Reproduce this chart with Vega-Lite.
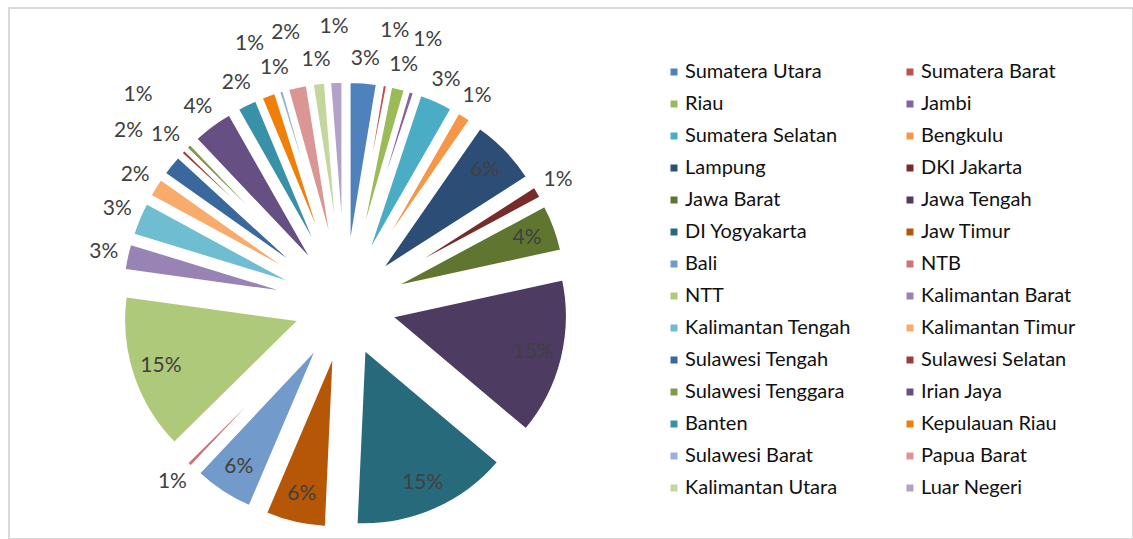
{
  "$schema": "https://vega.github.io/schema/vega-lite/v6.json",
  "width": 1124,
  "height": 531,
  "autosize": {"type": "none"},
  "padding": {"left": 9, "top": 8, "right": 0, "bottom": 0},
  "background": "white",
  "config": {
    "view": {"stroke": "#d9d9d9", "strokeWidth": 2},
    "font": "Lato"
  },
  "data": {
    "values": [
      {"idx": 1, "name": "Sumatera Utara", "v": 2.61},
      {"idx": 2, "name": "Sumatera Barat", "v": 0.52},
      {"idx": 3, "name": "Riau", "v": 1.39},
      {"idx": 4, "name": "Jambi", "v": 0.6},
      {"idx": 5, "name": "Sumatera Selatan", "v": 3.19},
      {"idx": 6, "name": "Bengkulu", "v": 1.36},
      {"idx": 7, "name": "Lampung", "v": 6.3},
      {"idx": 8, "name": "DKI Jakarta", "v": 1.22},
      {"idx": 9, "name": "Jawa Barat", "v": 4.42},
      {"idx": 10, "name": "Jawa Tengah", "v": 14.6},
      {"idx": 11, "name": "DI Yogyakarta", "v": 14.6},
      {"idx": 12, "name": "Jaw Timur", "v": 5.7},
      {"idx": 13, "name": "Bali", "v": 5.61},
      {"idx": 14, "name": "NTB", "v": 0.6},
      {"idx": 15, "name": "NTT", "v": 14.6},
      {"idx": 16, "name": "Kalimantan Barat", "v": 2.55},
      {"idx": 17, "name": "Kalimantan Tengah", "v": 3.19},
      {"idx": 18, "name": "Kalimantan Timur", "v": 1.86},
      {"idx": 19, "name": "Sulawesi Tengah", "v": 2.03},
      {"idx": 20, "name": "Sulawesi Selatan", "v": 0.52},
      {"idx": 21, "name": "Sulawesi Tenggara", "v": 0.6},
      {"idx": 22, "name": "Irian Jaya", "v": 3.86},
      {"idx": 23, "name": "Banten", "v": 1.94},
      {"idx": 24, "name": "Kepulauan Riau", "v": 1.42},
      {"idx": 25, "name": "Sulawesi Barat", "v": 0.52},
      {"idx": 26, "name": "Papua Barat", "v": 1.86},
      {"idx": 27, "name": "Kalimantan Utara", "v": 1.25},
      {"idx": 28, "name": "Luar Negeri", "v": 1.25}
    ]
  },
  "transform": [
    {"joinaggregate": [{"op": "sum", "field": "v", "as": "total"}]},
    {"window": [{"op": "sum", "field": "v", "as": "cum"}], "sort": [{"field": "idx"}], "frame": [null, 0]},
    {"calculate": "datum.v / datum.total", "as": "share"},
    {"calculate": "2 * PI * (datum.cum - datum.v / 2) / datum.total", "as": "mid"},
    {"calculate": "47 * sin(datum.mid)", "as": "ex"},
    {"calculate": "-47 * cos(datum.mid)", "as": "ey"},
    {"calculate": "datum.share >= 0.04 ? 147 : (datum.name == 'Sulawesi Tenggara' ? 248 : (indexof(['Sumatera Barat', 'Jambi', 'Sulawesi Tengah', 'Kepulauan Riau', 'Papua Barat', 'Luar Negeri'], datum.name) >= 0 ? 231 : 200))", "as": "lr"},
    {"calculate": "datum.ex + datum.lr * sin(datum.mid)", "as": "lx"},
    {"calculate": "datum.ey - datum.lr * cos(datum.mid)", "as": "ly"},
    {"calculate": "format(datum.share, '.0%')", "as": "lbl"}
  ],
  "layer": [
    {
      "mark": {"type": "arc", "outerRadius": 177, "stroke": "white", "strokeWidth": 3.5},
      "encoding": {
        "x": {"field": "ex", "type": "quantitative", "scale": {"domain": [-336, 788], "range": [0, 1124], "nice": false, "zero": false}, "axis": null},
        "y": {"field": "ey", "type": "quantitative", "scale": {"domain": [-297, 234], "range": [0, 531], "nice": false, "zero": false}, "axis": null},
        "theta": {"field": "v", "type": "quantitative", "stack": true},
        "order": {"field": "idx", "type": "quantitative", "sort": "ascending"},
        "color": {
          "field": "name",
          "type": "nominal",
          "scale": {
            "domain": ["Sumatera Utara", "Sumatera Barat", "Riau", "Jambi", "Sumatera Selatan", "Bengkulu", "Lampung", "DKI Jakarta", "Jawa Barat", "Jawa Tengah", "DI Yogyakarta", "Jaw Timur", "Bali", "NTB", "NTT", "Kalimantan Barat", "Kalimantan Tengah", "Kalimantan Timur", "Sulawesi Tengah", "Sulawesi Selatan", "Sulawesi Tenggara", "Irian Jaya", "Banten", "Kepulauan Riau", "Sulawesi Barat", "Papua Barat", "Kalimantan Utara", "Luar Negeri"],
            "range": ["#4F81BD", "#C0504D", "#9BBB59", "#8064A2", "#4BACC6", "#F79646", "#2C4D75", "#772C2A", "#5F7530", "#4D3B62", "#276A7C", "#B65708", "#729ACA", "#CD7371", "#AFC97A", "#9983B5", "#6FBDD1", "#F9AB6B", "#3A679C", "#9C3A38", "#7F9A48", "#664F83", "#3891A7", "#F07F09", "#95B3D7", "#D99694", "#C3D69B", "#B3A2C7"]
          },
          "legend": {
            "title": null,
            "orient": "none",
            "legendX": 655,
            "legendY": 54,
            "columns": 2,
            "direction": "horizontal",
            "symbolType": "square",
            "symbolSize": 49,
            "symbolStrokeWidth": 0,
            "labelFont": "Lato",
            "labelFontSize": 20,
            "labelColor": "#111111",
            "labelOffset": 1,
            "labelLimit": 400,
            "rowPadding": 12,
            "columnPadding": 48
          }
        }
      }
    },
    {
      "mark": {"type": "text", "align": "center", "baseline": "middle", "font": "Lato", "fontSize": 21, "fill": "#404040"},
      "encoding": {
        "x": {"field": "lx", "type": "quantitative"},
        "y": {"field": "ly", "type": "quantitative"},
        "text": {"field": "lbl", "type": "nominal"}
      }
    }
  ]
}
